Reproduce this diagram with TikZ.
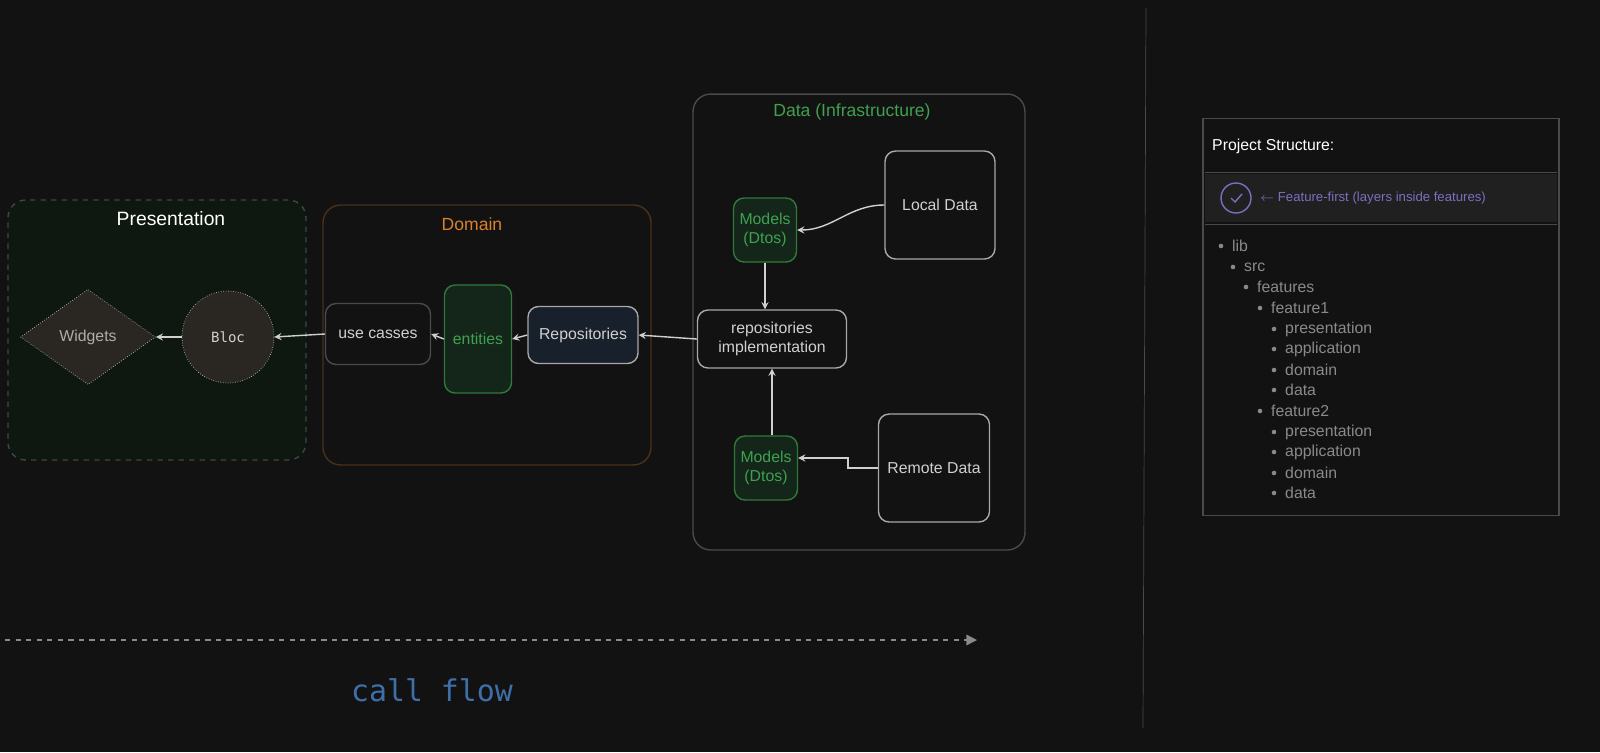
\documentclass[tikz,border=0pt]{standalone}
\usepackage{fontspec}
\setmainfont{Liberation Sans}
\setmonofont{DejaVu Sans Mono}
\usetikzlibrary{shapes.geometric, arrows, arrows.meta}
\definecolor{bg}{HTML}{121212}
\definecolor{presfill}{HTML}{0E1810}
\definecolor{presline}{HTML}{3A4A3A}
\definecolor{domline}{HTML}{4A3018}
\definecolor{domtext}{HTML}{D9822B}
\definecolor{greenline}{HTML}{2F7A3A}
\definecolor{greentext}{HTML}{3FA14F}
\definecolor{greenfill}{HTML}{14261A}
\definecolor{repofill}{HTML}{18202B}
\definecolor{softwhite}{HTML}{D0D0D0}
\definecolor{boxline}{HTML}{A8A8A8}
\definecolor{dataline}{HTML}{4A4A4A}
\definecolor{dimgrey}{HTML}{8A8A8A}
\definecolor{shapefill}{HTML}{2A2622}
\definecolor{flowblue}{HTML}{3F6FA8}
\definecolor{checkpurple}{HTML}{7A6FC0}
\tikzstyle{arrow} = [thick,->,>=stealth,softwhite]
\tikzstyle{layer} = [draw, rounded corners=10pt, thick]
\tikzstyle{box} = [draw=boxline, rounded corners=6pt, thick, align=center, text=softwhite, font=\fontsize{9}{11}\selectfont]
\tikzstyle{model} = [box, draw=greenline, fill=greenfill, text=greentext, minimum width=1.26cm, minimum height=1.28cm]
\tikzstyle{tree} = [anchor=west, text=dimgrey, font=\fontsize{9}{11}\selectfont]

\begin{document}
\begin{tikzpicture}[x=0.02cm,y=-0.02cm]
			
			% Background and frame:
			\fill[bg] (0,0) rectangle (1600,752);
			\useasboundingbox (0,0) rectangle (1600,752);
			
			% Layers:
			\node[layer, dashed, draw=presline, fill=presfill, minimum width=5.96cm, minimum height=5.2cm] (presentation) at (157,330) {};
			\node[text=white, font=\fontsize{11}{13}\selectfont] at (171,219) {Presentation};
			\node[layer, draw=domline, minimum width=6.56cm, minimum height=5.2cm] (domain) at (487,335) {};
			\node[text=domtext, font=\fontsize{10}{12}\selectfont] at (472,224) {Domain};
			\node[layer, draw=dataline, minimum width=6.64cm, minimum height=9.12cm] (data) at (859,322) {};
			\node[text=greentext, font=\fontsize{10}{12}\selectfont] at (852,112) {Data (Infrastructure)};
			
			% Presentation:
			\node[diamond, draw=dimgrey!60, densely dotted, fill=shapefill, minimum width=2.7cm, minimum height=1.8cm, text=dimgrey!70, font=\fontsize{9}{11}\selectfont] (widgets) at (88,337) {Widgets};
			\node[circle, draw=dimgrey!60, densely dotted, fill=shapefill, minimum size=1.84cm, text=softwhite, font=\ttfamily\fontsize{8}{10}\selectfont] (bloc) at (228,337) {Bloc};
			
			% Domain:
			\node[box, draw=dataline, minimum width=2.1cm, minimum height=1.22cm] (usecases) at (378,334) {use casses};
			\node[box, draw=greenline, fill=greenfill, text=greentext, minimum width=1.34cm, minimum height=2.16cm] (entities) at (478,339) {entities};
			\node[box, fill=repofill, minimum width=2.2cm, minimum height=1.14cm] (repositories) at (583,335) {Repositories};
			
			% Data:
			\node[model] (modelsTop) at (765,230) {Models\\(Dtos)};
			\node[box, minimum width=2.2cm, minimum height=2.16cm] (localData) at (940,205) {Local Data};
			\node[box, minimum width=2.98cm, minimum height=1.16cm] (implementation) at (772,339) {repositories\\implementation};
			\node[model] (modelsBottom) at (766,468) {Models\\(Dtos)};
			\node[box, minimum width=2.22cm, minimum height=2.16cm] (remoteData) at (934,468) {Remote Data};
			
			% Connectors:
			\draw[arrow] (localData.west) to[out=180,in=0] (modelsTop.east);
			\draw[arrow] (modelsTop.south) -- (modelsTop.south |- implementation.north);
			\draw[arrow] (modelsBottom.north -| implementation.south) -- (implementation.south);
			\draw[arrow] (remoteData.west) -- ++(-0.6cm,0) |- ([yshift=0.2cm]modelsBottom.east);
			\draw[arrow] (implementation.west) -- (repositories.east);
			\draw[arrow] (repositories.west) -- (entities.east);
			\draw[arrow] (entities.west) -- (usecases.east);
			\draw[arrow] (usecases.west) -- (bloc.east);
			\draw[arrow] (bloc.west) -- (widgets.east);
			
			% Call flow:
			\coordinate (flowStart) at (5,640);
			\coordinate (flowEnd) at (977,640);
			\draw[dimgrey, thick, dashed, -{Triangle[length=6pt,width=6pt]}] (flowStart) -- (flowEnd);
			\node[text=flowblue, font=\ttfamily\fontsize{17}{20}\selectfont] (callFlow) at (432,690) {call flow};
			
			% Separator:
			\draw[dataline] (1146,8) -- (1143,728);
			
			% Project structure:
			\node[draw=dataline, thick, minimum width=7.12cm, minimum height=7.94cm] (project) at (1381,317) {};
			\node[anchor=west, text=white, font=\fontsize{9}{11}\selectfont] at (1206,146) {Project Structure:};
			\fill[white!6!bg] (1205,174) rectangle (1557,222);
			\draw[dataline] (1205,172) -- (1557,172);
			\draw[dataline] (1205,224) -- (1557,224);
			\node[circle, draw=checkpurple, thick, minimum size=0.6cm] (check) at (1236,198) {};
			\draw[checkpurple, thick] (1231,198) -- (1235,202) -- (1242,194);
			\node[anchor=west, text=checkpurple, font=\fontsize{7.5}{9}\selectfont] at (1254,198) {$\leftarrow$ Feature-first (layers inside features)};
			\foreach \x/\y/\t in {1221/246/lib, 1233/267/src, 1246/287/features, 1260/308/feature1,
				1274/329/presentation, 1274/349/application, 1274/370/domain, 1274/390/data,
				1260/411/feature2,
				1274/432/presentation, 1274/452/application, 1274/473/domain, 1274/493/data}
			{
				\fill[dimgrey] (\x,\y) circle (1.3pt);
				\node[tree] at (\x+5,\y) {\t};
			}
			
			\end{tikzpicture}
\end{document}
